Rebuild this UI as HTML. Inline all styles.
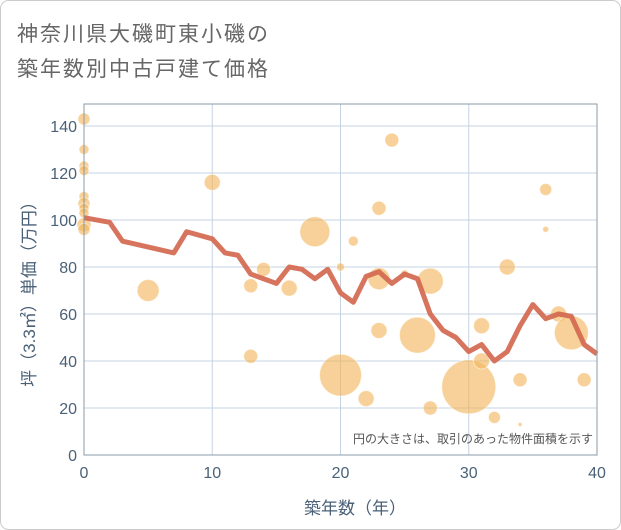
<!DOCTYPE html>
<html><head><meta charset="utf-8"><style>
body{margin:0;background:#fff;}
#wrap{position:relative;width:621px;height:530px;overflow:hidden;}
svg text{font-family:"Liberation Sans","Noto Sans CJK JP",sans-serif;}
</style></head><body>
<div id="wrap">
<svg id="chart" width="621" height="530">
<rect x="0.5" y="0.5" width="620" height="529" rx="8" fill="#fff" stroke="#ccc"/>
<text x="17" y="41" font-size="21" fill="#666" letter-spacing="2">神奈川県大磯町東小磯の</text>
<text x="17" y="76" font-size="21" fill="#666" letter-spacing="2">築年数別中古戸建て価格</text>
<g id="grid"></g>
<g id="bubbles"></g>
<g id="line"></g>
<rect x="84" y="104" width="513" height="351" fill="none" stroke="#8a9aa8"/>
<g id="axes"></g>
<text x="593" y="443" font-size="12" fill="#555" text-anchor="end">円の大きさは、取引のあった物件面積を示す</text>
<text x="355" y="514" font-size="17" fill="#4a6178" text-anchor="middle">築年数（年）</text>
<text transform="translate(35,290) rotate(-90)" font-size="17" fill="#4a6178" text-anchor="middle">坪（3.3㎡）単価（万円）</text>
</svg>
</div>
<script>
const xTicks=[0,10,20,30,40];
const yTicks=[0,20,40,60,80,100,120,140];
const lineYears=[0,2,3,7,8,10,11,12,13,14,15,16,17,18,19,20,21,22,23,24,25,26,27,28,29,30,31,32,33,34,35,36,37,38,39,40];
const lineValues=[101,99,91,86,95,92,86,85,77,75,73,80,79,75,79,69,65,76,78,73,77,75,60,53,50,44,47,40,44,55,64,58,60,59,47,43];
const bubbleYears=[0,0,0,0,0,0,0,0,0,0,10,5,13,13,14,16,18,20,20,21,22,23,23,23,24,25,26,27,27,30,31,31,32,33,34,34,36,36,37,38,39];
const bubbleValues=[143,130,123,121,110,107,105,103,98,96,116,70,72,42,79,71,95,80,34,91,24,105,75,53,134,77,51,74,20,29,55,40,16,80,32,13,113,96,60,52,32];
const bubbleSizes=[6,5,5,5,5,6,5,5,7,6,8,11,7,7,7,8,15,4,21,5,8,7,11,8,7,4,18,13,7,27,8,8,6,8,7,2,6,3,8,17,7];
const NS="http://www.w3.org/2000/svg";
const X=v=>84+v*(513/40);
const Y=v=>455-v*(329/140);
function mk(t,a,p){const e=document.createElementNS(NS,t);for(const k in a)e.setAttribute(k,a[k]);p.appendChild(e);return e;}
const grid=document.getElementById('grid'),axes=document.getElementById('axes');
xTicks.forEach(t=>{
 const l=mk('line',{x1:X(t),x2:X(t),y1:104,y2:455,stroke:'#c5d3e0'},grid);
 
 
 const tx=mk('text',{x:X(t),y:478,'font-size':16,fill:'#4a6178','text-anchor':'middle'},axes);
 tx.textContent=t;
 
 
});
yTicks.forEach(t=>{
 const l=mk('line',{x1:84,x2:597,y1:Y(t),y2:Y(t),stroke:'#c5d3e0'},grid);
 
 
 const tx=mk('text',{x:77,y:Y(t)+6,'font-size':16,fill:'#4a6178','text-anchor':'end'},axes);
 tx.textContent=t;
 
 
});
const bg=document.getElementById('bubbles');
bubbleYears.forEach((yr,i)=>{
 const c=mk('circle',{cx:X(yr),cy:Y(bubbleValues[i]),r:bubbleSizes[i],fill:'#f2b45a','fill-opacity':0.62,stroke:'#fff','stroke-opacity':0.5},bg);
 
 
});
const pts=lineYears.map((yr,i)=>X(yr)+','+Y(lineValues[i])).join(' ');
const pl=mk('polyline',{points:pts,fill:'none',stroke:'#d4684f','stroke-width':5,'stroke-linejoin':'round','stroke-opacity':0.92},document.getElementById('line'));


</script>
</body></html>
